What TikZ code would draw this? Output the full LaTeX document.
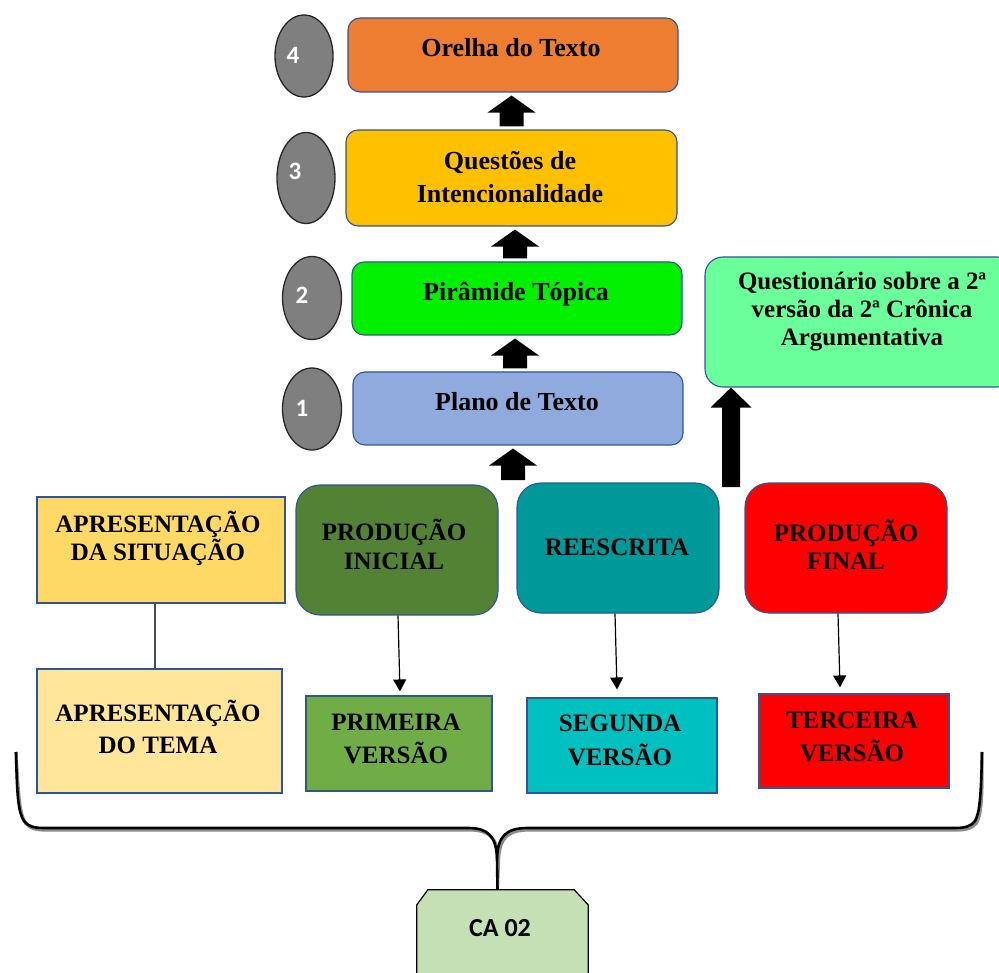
\documentclass[tikz,border=0pt]{standalone}
\usepackage{fontspec}
\setmainfont{Liberation Serif}
\newfontfamily\digitfont{Carlito}
\usetikzlibrary{arrows.meta,calc,shapes.geometric}

\definecolor{boxline}{HTML}{2F5597}
\definecolor{badgefill}{HTML}{7F7F7F}
\definecolor{badgeline}{HTML}{262626}
\definecolor{orelhaC}{HTML}{ED7D31}
\definecolor{questoesC}{HTML}{FFC000}
\definecolor{piramideC}{HTML}{00F000}
\definecolor{planoC}{HTML}{8FAADC}
\definecolor{questionarioC}{HTML}{6BFF9B}
\definecolor{situacaoC}{HTML}{FFD966}
\definecolor{temaC}{HTML}{FFE699}
\definecolor{pinicialC}{HTML}{548235}
\definecolor{primeiraC}{HTML}{70AD47}
\definecolor{reescritaC}{HTML}{009999}
\definecolor{segundaC}{HTML}{00C0C0}
\definecolor{pfinalC}{HTML}{FF0000}
\definecolor{caC}{HTML}{C5E0B4}

% upward block arrow: #1 base point, #2 tip, #3 half shaft, #4 half head, #5 head length
\newcommand{\blockup}[5]{%
  \fill[black] ($(#1)+(-#3,0)$) -- ($(#2)+(-#3,#5)$) -- ($(#2)+(-#4,#5)$) -- (#2)
    -- ($(#2)+(#4,#5)$) -- ($(#2)+(#3,#5)$) -- ($(#1)+(#3,0)$) -- cycle;}

% the two halves of the grouping brace
\newcommand{\bracecurve}[1]{%
  \draw[#1] (brL) .. controls (17,795) and (18,812) .. (24,821)
    .. controls (28,826) and (33,828) .. (44,828) -- (468,828)
    .. controls (488,828) and (496,836) .. (497,858) -- (brTip);
  \draw[#1] (brR) .. controls (981,795) and (980,812) .. (975,821)
    .. controls (971,826) and (966,828) .. (955,828) -- (528,828)
    .. controls (506,828) and (498,836) .. (497,858);}

\begin{document}
\begin{tikzpicture}[x=1pt,y=-1pt,
  box/.style={draw=boxline, line width=1.1pt, inner sep=0pt},
  rbox/.style={box, rounded corners=12pt},
  bigrbox/.style={box, rounded corners=24pt},
  badge/.style={ellipse, draw=badgeline, line width=1.3pt, fill=badgefill, inner sep=0pt},
  digit/.style={font=\digitfont\bfseries\fontsize{25}{25}\selectfont, text=white, anchor=base, inner sep=0pt},
  toptext/.style={font=\bfseries\fontsize{26}{30}\selectfont, anchor=base, inner sep=0pt},
  captext/.style={font=\bfseries\fontsize{25}{30}\selectfont, anchor=base, inner sep=0pt},
  thinarrow/.style={draw=black, line width=1.2pt, -{Triangle[length=12pt,width=13pt]}},
  bracestroke/.style={draw=black, line width=2.6pt},
  braceshadow/.style={draw=black!45, line width=3.2pt, shift={(1.5,2)}},
]
\useasboundingbox (0,0) rectangle (999,973);

% ---- stacked steps ----
\node[rbox, fill=orelhaC, minimum width=330pt, minimum height=74pt] (orelha) at (513,55) {};
\node[rbox, fill=questoesC, minimum width=331pt, minimum height=96pt] (questoes) at (511.5,178) {};
\node[rbox, fill=piramideC, minimum width=330pt, minimum height=73pt] (piramide) at (517,298.5) {};
\node[rbox, fill=planoC, minimum width=330pt, minimum height=73pt] (plano) at (518,408.5) {};
\node[box, rounded corners=18pt, fill=questionarioC, minimum width=310pt, minimum height=130pt] (questionario) at (860,322) {};

\node[toptext] (t-orelha) at (511,56.5) {Orelha do Texto};
\node[toptext] (t-questoes1) at (510,169.3) {Questões de};
\node[toptext] (t-questoes2) at (510,202.7) {Intencionalidade};
\node[toptext] (t-piramide) at (516,301) {Pirâmide Tópica};
\node[toptext] (t-plano) at (517,411) {Plano de Texto};
\node[captext] (t-quest1) at (862,289.5) {Questionário sobre a 2ª};
\node[captext] (t-quest2) at (862,317.5) {versão da 2ª Crônica};
\node[captext] (t-quest3) at (862,345.5) {Argumentativa};

% ---- step badges ----
\node[badge, minimum width=58pt, minimum height=82pt] (b4) at (304,56) {};
\node[badge, minimum width=58pt, minimum height=91pt] (b3) at (306,178) {};
\node[badge, minimum width=59pt, minimum height=83pt] (b2) at (312,298) {};
\node[badge, minimum width=59pt, minimum height=82pt] (b1) at (312,409) {};
\node[digit] (d4) at (293,63.3) {4};
\node[digit] (d3) at (295,180) {3};
\node[digit] (d2) at (302,303.3) {2};
\node[digit] (d1) at (302,416.7) {1};

% ---- block arrows ----
\coordinate (a1b) at ($(questoes.north)+(0,-3)$);
\coordinate (a1t) at ($(questoes.north |- orelha.south)+(0,3)$);
\coordinate (a2b) at ($(piramide.north)+(-2,-3)$);
\coordinate (a2t) at ($(piramide.north |- questoes.south)+(-2,3)$);
\coordinate (a3b) at ($(plano.north)+(-3,-3)$);
\coordinate (a3t) at ($(plano.north |- piramide.south)+(-3,3)$);
\coordinate (a4b) at (513,480);
\coordinate (a4t) at ($(a4b |- plano.south)+(0,3)$);
\coordinate (a5b) at (731,487);
\coordinate (a5t) at (a5b |- questionario.south);
\blockup{a1b}{a1t}{12}{24}{17}
\blockup{a2b}{a2t}{12}{24}{17}
\blockup{a3b}{a3t}{12}{24}{17}
\blockup{a4b}{a4t}{12}{24}{17}
\blockup{a5b}{a5t}{9}{20.5}{20}

% ---- lower row ----
\node[box, fill=situacaoC, minimum width=248pt, minimum height=106pt] (situacao) at (161,550) {};
\node[box, fill=temaC, minimum width=245pt, minimum height=124pt] (tema) at (159.5,731) {};
\node[bigrbox, fill=pinicialC, minimum width=202pt, minimum height=130pt] (pinicial) at (397,550) {};
\node[box, fill=primeiraC, minimum width=186pt, minimum height=95pt] (primeira) at (399,743.5) {};
\node[bigrbox, fill=reescritaC, minimum width=202pt, minimum height=130pt] (reescrita) at (618,548) {};
\node[box, fill=segundaC, minimum width=190pt, minimum height=95pt] (segunda) at (622,745.5) {};
\node[bigrbox, fill=pfinalC, minimum width=202pt, minimum height=130pt] (pfinal) at (846,548) {};
\node[box, fill=pfinalC, minimum width=190pt, minimum height=94pt] (terceira) at (854,741) {};

\node[captext] (t-sit1) at (158,532.3) {APRESENTAÇÃO};
\node[captext] (t-sit2) at (158,560.7) {DA SITUAÇÃO};
\node[captext] (t-tema1) at (158,721.7) {APRESENTAÇÃO};
\node[captext] (t-tema2) at (158,753.3) {DO TEMA};
\node[captext] (t-pin1) at (394,540.7) {PRODUÇÃO};
\node[captext] (t-pin2) at (394,569.3) {INICIAL};
\node[captext] (t-pri1) at (396,730) {PRIMEIRA};
\node[captext] (t-pri2) at (396,763.3) {VERSÃO};
\node[captext] (t-rees) at (617,555) {REESCRITA};
\node[captext] (t-seg1) at (620,731.7) {SEGUNDA};
\node[captext] (t-seg2) at (620,765) {VERSÃO};
\node[captext] (t-pfi1) at (846,541) {PRODUÇÃO};
\node[captext] (t-pfi2) at (846,569.3) {FINAL};
\node[captext] (t-ter1) at (852,728.3) {TERCEIRA};
\node[captext] (t-ter2) at (852,761.7) {VERSÃO};

% ---- thin connectors ----
\draw[draw=black!70, line width=1.4pt] ([xshift=-6pt]situacao.south) -- ([xshift=-6pt]situacao.south |- tema.north);
\draw[thinarrow] ([xshift=1pt]pinicial.south) -- ([xshift=1pt,yshift=4pt]primeira.north);
\draw[thinarrow] ([xshift=-3pt]reescrita.south) -- ([xshift=-5pt,yshift=8pt]segunda.north);
\draw[thinarrow] ([xshift=-8pt]pfinal.south) -- ([xshift=-14pt,yshift=6pt]terceira.north);

% ---- CA 02 tag and brace ----
\node[minimum width=171pt, minimum height=100pt, inner sep=0pt] (ca) at (502.5,940) {};
\filldraw[fill=caC, draw=black, line width=1.2pt]
  ($(ca.north west)+(0,15)$) -- ($(ca.north west)+(11,0)$) -- ($(ca.north east)+(-14,0)$)
  -- ($(ca.north east)+(0,15)$) -- (ca.south east) -- (ca.south west) -- cycle;
\node[font=\digitfont\bfseries\fontsize{26}{26}\selectfont, anchor=base, inner sep=0pt] (t-ca) at (500,936) {CA 02};

\coordinate (brL) at (16,752);
\coordinate (brR) at (982,752);
\coordinate (brTip) at ($(ca.north)+(-5,0)$);
\bracecurve{braceshadow}
\bracecurve{bracestroke}
\end{tikzpicture}
\end{document}
